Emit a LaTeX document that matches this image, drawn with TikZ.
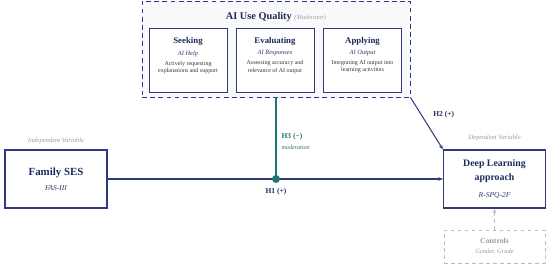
\documentclass[tikz,border=0pt]{standalone}
\usepackage{fontspec}
\setmainfont{Liberation Serif}
\definecolor{modnavy}{HTML}{2E3A7C}
\definecolor{headnavy}{HTML}{1F2A5E}
\definecolor{modteal}{HTML}{1E7672}
\definecolor{notegray}{HTML}{9C9C9C}
\definecolor{ctrlgray}{HTML}{BDBDBD}
\usetikzlibrary{arrows.meta, positioning}

\begin{document}
\begin{tikzpicture}[x=0.3mm, y=-0.3mm,
    varbox/.style={rectangle, draw=modnavy, fill=white, line width=0.9pt, minimum width=30.6mm, minimum height=17.4mm, align=center, text=headnavy},
    dimbox/.style={rectangle, draw=modnavy, fill=white, line width=0.6pt, minimum width=23.4mm, minimum height=19.2mm},
    dimhead/.style={font=\fontsize{7.5}{8}\selectfont\bfseries, text=headnavy, inner sep=0pt},
    dimsub/.style={font=\fontsize{5.5}{6}\selectfont\itshape, text=modnavy, inner sep=0pt},
    dimtext/.style={font=\fontsize{5.1}{6.1}\selectfont, text=black!80, align=center, inner sep=0pt},
    note/.style={font=\fontsize{5.6}{6.6}\selectfont\itshape, text=notegray, inner sep=0pt},
    hlbl/.style={font=\fontsize{6.4}{7}\selectfont\bfseries, text=#1, inner sep=0pt},
    arr/.style={-{Stealth[length=4pt, width=3pt]}, line width=0.9pt, color=#1},
]
    \useasboundingbox (0,0) rectangle (550,267);

    % moderator block
    \node[rectangle, draw=modnavy, fill=modnavy!3, line width=0.8pt, dash pattern=on 4pt off 3pt, minimum width=80.4mm, minimum height=28.8mm] (aiq) at (276,49) {};
    \node[inner sep=0pt] (aiqtitle) at (276,17.5) {\fontsize{8.8}{10}\selectfont\bfseries\color{headnavy}AI Use Quality \fontsize{5.4}{6}\selectfont\mdseries\itshape\color{notegray}(Moderator)};

    \node[dimbox] (seek) at (188,60) {};
    \node[dimhead, below=3mm of seek.north] (seekhead) {Seeking};
    \node[dimsub, below=1.3mm of seekhead] (seeksub) {AI Help};
    \node[dimtext, below=1.2mm of seeksub] (seektext) {Actively requesting\\explanations and support};

    \node[dimbox] (eval) at (275,60) {};
    \node[dimhead, below=3mm of eval.north] (evalhead) {Evaluating};
    \node[dimsub, below=1.3mm of evalhead] (evalsub) {AI Responses};
    \node[dimtext, below=1.2mm of evalsub] (evaltext) {Assessing accuracy and\\relevance of AI output};

    \node[dimbox] (apply) at (362.5,60) {};
    \node[dimhead, below=3mm of apply.north] (applyhead) {Applying};
    \node[dimsub, below=1.3mm of applyhead] (applysub) {AI Output};
    \node[dimtext, below=1.2mm of applysub] (applytext) {Integrating AI output into\\learning activities};

    % variables
    \node[varbox] (fses) at (56,179) {\fontsize{9.3}{11}\selectfont\bfseries Family SES\\[0.4mm]\fontsize{6.4}{7}\selectfont\mdseries\itshape\color{modnavy}FAS-III};
    \node[varbox] (dla) at (494.5,179) {\fontsize{8.4}{10.5}\selectfont\bfseries Deep Learning\\\fontsize{8.4}{10.5}\selectfont\bfseries approach\\[0.8mm]\fontsize{6.4}{7}\selectfont\mdseries\itshape\color{modnavy}R-SPQ-2F};
    \node[note, above=1.6mm of fses] (indep) {Independent Variable};
    \node[note, above=2.4mm of dla] (dep) {Dependent Variable};

    \node[rectangle, draw=ctrlgray, dashed, fill=white, line width=0.6pt, minimum width=30.3mm, minimum height=9.9mm, align=center, text=notegray] (ctrl) at (494.5,246.5) {\fontsize{6.6}{7}\selectfont\bfseries Controls\\[-1.1mm]\fontsize{5.5}{6}\selectfont\mdseries\itshape Gender, Grade};

    % paths
    \coordinate (mjoin) at (aiq.south |- fses.east);
    \draw[arr=modnavy] (fses) -- (dla);
    \draw[modteal, line width=1pt] (aiq.south) -- node[pos=0.54, right=1.5mm, hlbl=modteal, align=left] {H3 (−)\\[1mm]\fontsize{5.2}{6}\selectfont\mdseries\itshape moderation} (mjoin);
    \fill[modteal] (mjoin) circle (1.2mm);
    \node[hlbl=headnavy, below=2.6mm of mjoin] (h1) {H1 (+)};
    \draw[arr=modnavy] (aiq.south east) -- node[pos=0.33, right=3.5mm, hlbl=headnavy] {H2 (+)} (dla.north west);
    \draw[arr=ctrlgray, dashed, line width=0.6pt] (ctrl) -- (dla);
\end{tikzpicture}
\end{document}
